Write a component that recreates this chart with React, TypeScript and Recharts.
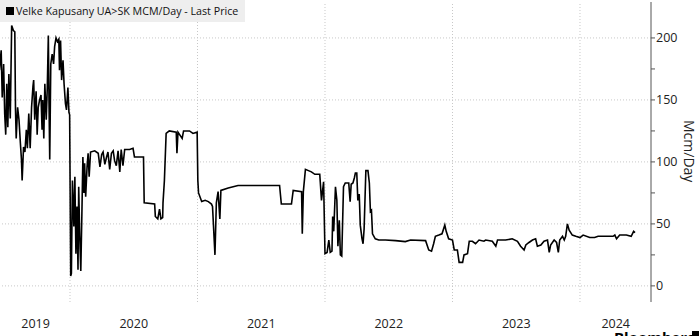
import { LineChart, Line, XAxis, YAxis, ReferenceLine } from "recharts";

// daily flow (Mcm/day)
const dates = [
  "2019-06-13", "2019-06-18", "2019-06-21", "2019-06-25", "2019-06-28", "2019-07-01", "2019-07-04", "2019-07-07",
  "2019-07-10", "2019-07-14", "2019-07-18", "2019-07-23", "2019-07-27", "2019-07-29", "2019-07-31", "2019-08-04",
  "2019-08-08", "2019-08-12", "2019-08-15", "2019-08-17", "2019-08-21", "2019-08-25", "2019-08-29", "2019-09-01",
  "2019-09-05", "2019-09-09", "2019-09-13", "2019-09-17", "2019-09-19", "2019-09-22", "2019-09-26", "2019-09-29",
  "2019-10-02", "2019-10-06", "2019-10-10", "2019-10-13", "2019-10-15", "2019-10-18", "2019-10-21", "2019-10-25",
  "2019-10-28", "2019-10-31", "2019-11-02", "2019-11-04", "2019-11-07", "2019-11-11", "2019-11-15", "2019-11-18",
  "2019-11-22", "2019-11-26", "2019-11-30", "2019-12-02", "2019-12-05", "2019-12-08", "2019-12-12", "2019-12-15",
  "2019-12-19", "2019-12-22", "2019-12-26", "2019-12-29", "2019-12-31",
  "2020-01-03", "2020-01-05", "2020-01-08", "2020-01-12", "2020-01-15", "2020-01-18", "2020-01-21", "2020-01-24",
  "2020-01-26", "2020-01-29", "2020-02-01", "2020-02-04", "2020-02-07", "2020-02-10", "2020-02-12", "2020-02-15",
  "2020-02-19", "2020-02-22", "2020-02-25", "2020-02-29", "2020-03-12", "2020-03-22", "2020-03-27", "2020-04-01",
  "2020-04-05", "2020-04-10", "2020-04-15", "2020-04-19", "2020-04-24", "2020-04-29", "2020-05-04", "2020-05-08",
  "2020-05-13", "2020-05-18", "2020-05-23", "2020-05-27", "2020-06-01", "2020-06-06", "2020-06-20", "2020-06-30",
  "2020-07-04", "2020-07-30", "2020-08-01", "2020-08-31", "2020-09-02", "2020-09-09", "2020-09-14", "2020-09-18",
  "2020-09-23", "2020-09-24", "2020-09-28", "2020-10-03", "2020-10-12", "2020-11-01", "2020-11-03", "2020-11-06",
  "2020-11-18", "2020-11-22", "2020-12-09", "2020-12-19", "2020-12-31",
  "2021-01-02", "2021-01-04", "2021-01-13", "2021-01-23", "2021-02-01", "2021-02-10", "2021-02-13", "2021-02-20",
  "2021-02-24", "2021-03-01", "2021-03-06", "2021-03-09", "2021-03-30", "2021-04-27", "2021-06-23", "2021-08-24",
  "2021-08-29", "2021-09-27", "2021-10-02", "2021-10-26", "2021-10-28", "2021-10-31", "2021-11-06", "2021-11-23",
  "2021-12-03", "2021-12-17", "2021-12-22", "2021-12-28",
  "2022-01-01", "2022-01-07", "2022-01-12", "2022-01-16", "2022-01-21", "2022-01-23", "2022-01-26", "2022-01-31",
  "2022-02-04", "2022-02-07", "2022-02-11", "2022-02-14", "2022-02-18", "2022-02-23", "2022-02-28", "2022-03-10",
  "2022-03-14", "2022-03-17", "2022-03-22", "2022-03-26", "2022-03-29", "2022-04-02", "2022-04-05", "2022-04-09",
  "2022-04-12", "2022-04-17", "2022-04-20", "2022-04-23", "2022-04-28", "2022-05-04", "2022-05-08", "2022-05-11",
  "2022-05-14", "2022-05-17", "2022-05-25", "2022-06-04", "2022-06-23", "2022-07-22", "2022-08-19", "2022-09-03",
  "2022-10-16", "2022-10-25", "2022-11-02", "2022-11-08", "2022-11-13", "2022-11-23", "2022-12-02", "2022-12-10",
  "2022-12-14", "2022-12-21",
  "2023-01-01", "2023-01-06", "2023-01-15", "2023-01-20", "2023-01-30", "2023-02-03", "2023-02-13", "2023-02-18",
  "2023-02-27", "2023-03-08", "2023-03-18", "2023-04-01", "2023-04-06", "2023-04-25", "2023-05-05", "2023-05-10",
  "2023-06-02", "2023-06-21", "2023-07-06", "2023-07-15", "2023-07-25", "2023-07-30", "2023-08-08", "2023-08-18",
  "2023-08-27", "2023-09-01", "2023-09-11", "2023-09-20", "2023-09-30", "2023-10-05", "2023-10-09", "2023-10-19",
  "2023-10-26", "2023-10-31", "2023-11-04", "2023-11-12", "2023-11-17", "2023-11-21", "2023-11-26", "2023-12-01",
  "2023-12-10", "2023-12-20",
  "2024-01-01", "2024-01-10", "2024-01-29", "2024-02-12", "2024-02-22", "2024-03-17", "2024-04-05", "2024-04-10",
  "2024-04-15", "2024-04-24", "2024-05-13", "2024-05-27", "2024-06-03", "2024-06-07",
];

const values = [
  174, 190, 152, 179, 139, 122, 163, 128,
  171, 135, 210, 206, 205, 142, 119, 144,
  134, 115, 102, 85, 112, 108, 126, 111,
  139, 111, 144, 161, 166, 134, 157, 122,
  144, 150, 154, 126, 150, 119, 163, 134,
  160, 202, 147, 102, 179, 187, 179, 193,
  200, 197, 199, 174, 198, 166, 182, 163,
  147, 142, 160, 140, 138,
  8, 10, 85, 48, 88, 26, 64, 13,
  80, 40, 12, 56, 104, 75, 99, 72,
  96, 107, 88, 108, 109, 107, 96, 106,
  108, 98, 104, 108, 94, 107, 109, 101,
  97, 109, 92, 110, 97, 110, 110, 111,
  104, 104, 67, 66, 56, 54, 62, 54,
  55, 67, 85, 123, 125, 124, 107, 124,
  119, 125, 125, 123, 124,
  85, 75, 68, 69, 68, 66, 64, 25,
  67, 76, 54, 77, 79, 81, 81, 81,
  66, 66, 77, 76, 42, 76, 94, 92,
  90, 90, 69, 84,
  26, 27, 37, 27, 28, 56, 44, 80,
  69, 32, 53, 25, 24, 80, 83, 83,
  68, 82, 83, 87, 91, 91, 69, 74,
  49, 38, 34, 46, 93, 93, 83, 60,
  61, 42, 38, 37, 37, 36.5, 35.7, 37,
  36.5, 29, 28, 34, 40, 41, 42, 49,
  44, 38,
  37, 29, 29, 19, 19, 25, 26, 36,
  36, 34, 37, 36, 37, 36, 32, 37,
  37, 38, 36, 32, 29, 33, 35, 37,
  38, 32, 33, 36, 37, 27, 33, 37,
  35, 27, 37, 40, 37, 40, 50, 45,
  41, 40,
  39, 41, 39, 39, 40, 40, 40, 41,
  38, 41, 41, 40, 44, 43,
];

const yearLines = [2020, 2021, 2022, 2023, 2024];
const yearTicks = [2019.73, 2020.5, 2021.5, 2022.5, 2023.5, 2024.28];
const valueTicks = [0, 25, 50, 75, 100, 125, 150, 175, 200];
const gridValues = [0, 50, 100, 150, 200];

const FONT = "'Open Sans', 'Noto Sans', sans-serif";

function toYear(d: string) {
  const [y, m, day] = d.split("-").map(Number);
  const start = Date.UTC(y, 0, 1);
  const end = Date.UTC(y + 1, 0, 1);
  return y + (Date.UTC(y, m - 1, day) - start) / (end - start);
}

const data = dates.map((d, i) => ({ t: toYear(d), v: values[i] }));

function YearTick({ x, y, payload }: any) {
  return (
    <text x={x} y={y} dy="0.71em" textAnchor="middle" fontSize={12.5} fill="#222" fontFamily={FONT}>
      {Math.floor(payload.value)}
    </text>
  );
}

function ValueTick({ x, y, payload }: any) {
  if (payload.value % 50 !== 0) return <g />;
  return (
    <text x={x} y={y} dy="0.35em" textAnchor="start" fontSize={12.5} fill="#222" fontFamily={FONT}>
      {payload.value}
    </text>
  );
}

export default function App() {
  return (
    <div
      style={{
        position: "absolute",
        left: 0,
        top: 0,
        width: 699,
        height: 336,
        overflow: "hidden",
        background: "#fff",
        fontFamily: FONT,
      }}
    >
      <LineChart width={699} height={336} data={data} margin={{ top: 2, right: 0, bottom: 0, left: 0 }}>
        <XAxis
          dataKey="t"
          type="number"
          domain={[2019.451, 2024.557]}
          ticks={yearTicks}
          tick={<YearTick />}
          axisLine={false}
          tickLine={false}
          tickSize={0}
          tickMargin={17}
          height={34}
          allowDataOverflow
        />
        <YAxis
          orientation="right"
          type="number"
          domain={[-13, 229]}
          ticks={valueTicks}
          tick={<ValueTick />}
          width={48}
          axisLine={{ stroke: "#555", strokeWidth: 1 }}
          tickLine={{ stroke: "#555" }}
          tickSize={4}
          tickMargin={1}
          interval={0}
          allowDataOverflow
        />
        {gridValues.map((g) => (
          <ReferenceLine key={"h" + g} y={g} stroke="#c8c8c8" strokeDasharray="1 2" />
        ))}
        {yearLines.map((yr) => (
          <ReferenceLine key={"v" + yr} x={yr} stroke="#c8c8c8" strokeDasharray="1 2" />
        ))}
        <Line
          type="linear"
          dataKey="v"
          stroke="#000"
          strokeWidth={1.6}
          dot={false}
          isAnimationActive={false}
        />
      </LineChart>

      <div
        style={{
          position: "absolute",
          left: 0,
          top: 0,
          width: 245,
          height: 22,
          background: "rgba(236,236,236,0.88)",
          display: "flex",
          alignItems: "center",
          fontSize: 10.7,
          color: "#111",
          whiteSpace: "nowrap",
        }}
      >
        <span style={{ display: "inline-block", width: 8, height: 8, background: "#000", marginLeft: 6, marginRight: 2 }} />
        Velke Kapusany UA&gt;SK MCM/Day - Last Price
      </div>

      <div
        style={{
          position: "absolute",
          left: 680,
          top: 120,
          writingMode: "vertical-rl",
          fontSize: 14,
          color: "#222",
          whiteSpace: "nowrap",
        }}
      >
        Mcm/Day
      </div>

      <div
        style={{
          position: "absolute",
          left: 614,
          top: 330,
          fontSize: 15,
          fontWeight: 700,
          color: "#000",
          whiteSpace: "nowrap",
          lineHeight: "15px",
        }}
      >
        Bloomberg
      </div>
      <div style={{ position: "absolute", left: 692, top: 331, width: 8, height: 8, background: "#000" }} />
    </div>
  );
}
